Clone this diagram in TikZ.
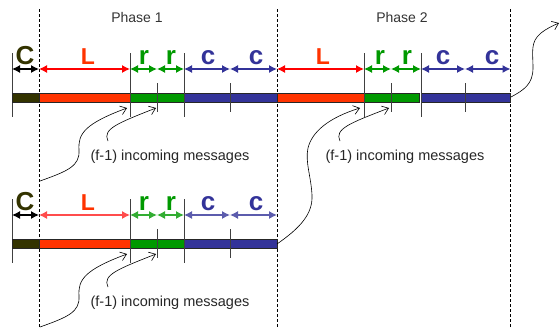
\documentclass[tikz,border=0pt]{standalone}
\usepackage{fontspec}
\setmainfont{Liberation Sans}
\usetikzlibrary{arrows.meta}
\definecolor{cOlive}{HTML}{333300}
\definecolor{cRed}{HTML}{FF3300}
\definecolor{cRedA}{HTML}{FF0000}
\definecolor{cGreen}{HTML}{009900}
\definecolor{cBlue}{HTML}{333399}
\begin{document}
\begin{tikzpicture}[x=1pt,y=-1pt,
  dim/.style={line width=1.2pt,{Latex[length=8pt,width=8pt]}-{Latex[length=8pt,width=8pt]}},
  tickln/.style={black!75,line width=0.8pt},
  seg/.style={draw=black!85,line width=0.8pt},
  lbl/.style={font=\bfseries\fontsize{26}{26}\selectfont,anchor=base,inner sep=0pt},
  lblL/.style={lbl,font=\bfseries\fontsize{23}{23}\selectfont},
  lblC/.style={lbl,font=\bfseries\fontsize{26}{26}\selectfont},
  msg/.style={line width=0.6pt,-{Straight Barb[length=6pt,width=9pt]}},
  phase/.style={font=\fontsize{14}{14}\selectfont,text=black!80},
  note/.style={font=\fontsize{14.5}{15}\selectfont,text=black!85},
  vdash/.style={dash pattern=on 3pt off 2pt,line width=0.7pt}]
\useasboundingbox (0,0) rectangle (560,327);

% phase boundaries
\draw[vdash] (39,9) -- (39,327);
\draw[vdash] (277,9) -- (277,327);
\draw[vdash] (510.5,9) -- (510.5,327);

\node[phase] (ph1) at (137,17) {Phase 1};
\node[phase] (ph2) at (402,17) {Phase 2};

% ---------- row 1 ----------
\draw[tickln] (12,53) -- (12,117);
\draw[tickln] (130,53) -- (130,117);
\draw[tickln] (184,53) -- (184,117);
\draw[tickln] (364,53) -- (364,117);
\draw[tickln] (421,53) -- (421,117);
\draw[tickln] (157,83) -- (157,112);
\draw[tickln] (230,83) -- (230,112);
\draw[tickln] (391,83) -- (391,112);
\draw[tickln] (465,83) -- (465,112);

\draw[seg,fill=cOlive] (12,93) rectangle (39,102.5);
\draw[seg,fill=cRed] (39,93) rectangle (130,102.5);
\draw[seg,fill=cGreen] (130,93) rectangle (184,102.5);
\draw[seg,fill=cBlue] (184,93) rectangle (277,102.5);
\draw[seg,fill=cRed] (277,93) rectangle (364,102.5);
\draw[seg,fill=cGreen] (364,93) rectangle (419,102.5);
\draw[seg,fill=cBlue] (421,93) rectangle (510.5,102.5);
\draw[tickln] (157,93) -- (157,102.5);
\draw[tickln] (230,93) -- (230,102.5);
\draw[tickln] (391,93) -- (391,102.5);
\draw[tickln] (465,93) -- (465,102.5);
\draw[tickln] (130,93) -- (130,102.5);
\draw[tickln] (184,93) -- (184,102.5);
\draw[tickln] (364,93) -- (364,102.5);
\draw[tickln] (421,93) -- (421,102.5);

\coordinate (p0) at (12,69);  \coordinate (p1) at (39,69);
\coordinate (p2) at (130,69); \coordinate (p3) at (157,69);
\coordinate (p4) at (184,69); \coordinate (p5) at (230,69);
\coordinate (p6) at (277,69); \coordinate (p7) at (364,69);
\coordinate (p8) at (391,69); \coordinate (p9) at (421,69);
\coordinate (p10) at (465,69); \coordinate (p11) at (510.5,69);
\draw[dim,black] (p0) -- (p1);
\draw[dim,cRedA] (p1) -- (p2);
\draw[dim,cGreen] (p2) -- (p3);
\draw[dim,cGreen] (p3) -- (p4);
\draw[dim,cBlue] (p4) -- (p5);
\draw[dim,cBlue] (p5) -- (p6);
\draw[dim,cRedA] (p6) -- (p7);
\draw[dim,cGreen] (p7) -- (p8);
\draw[dim,cGreen] (p8) -- (p9);
\draw[dim,cBlue] (p9) -- (p10);
\draw[dim,cBlue] (p10) -- (p11);

\node[lblC,text=cOlive] (lc1) at (25,64) {C};
\node[lblL,text=cRed] (ll1) at (88,64) {L};
\node[lbl,text=cGreen] (lr1) at (144,64) {r};
\node[lbl,text=cGreen] (lr2) at (171,64) {r};
\node[lbl,text=cBlue] (lcc1) at (208,64) {c};
\node[lbl,text=cBlue] (lcc2) at (256,64) {c};
\node[lblL,text=cRed] (ll2) at (323,64) {L};
\node[lbl,text=cGreen] (lr3) at (380,64) {r};
\node[lbl,text=cGreen] (lr4) at (407,64) {r};
\node[lbl,text=cBlue] (lcc3) at (443,64) {c};
\node[lbl,text=cBlue] (lcc4) at (492,64) {c};

\node[note] (n1) at (170,157) {(f-1) incoming messages};
\node[note] (n2) at (405,157) {(f-1) incoming messages};

% ---------- row 2 ----------
\draw[tickln] (12,199) -- (12,263);
\draw[tickln] (130,199) -- (130,263);
\draw[tickln] (184,199) -- (184,263);
\draw[tickln] (157,229) -- (157,258);
\draw[tickln] (230,229) -- (230,258);

\draw[seg,fill=cOlive] (12,239) rectangle (39,248.5);
\draw[seg,fill=cRed] (39,239) rectangle (130,248.5);
\draw[seg,fill=cGreen] (130,239) rectangle (184,248.5);
\draw[seg,fill=cBlue] (184,239) rectangle (277,248.5);
\draw[tickln] (157,239) -- (157,248.5);
\draw[tickln] (230,239) -- (230,248.5);
\draw[tickln] (130,239) -- (130,248.5);
\draw[tickln] (184,239) -- (184,248.5);

\coordinate (q0) at (12,215);  \coordinate (q1) at (39,215);
\coordinate (q2) at (130,215); \coordinate (q3) at (157,215);
\coordinate (q4) at (184,215); \coordinate (q5) at (230,215);
\coordinate (q6) at (277,215);
\draw[dim,black] (q0) -- (q1);
\draw[dim,cRedA!70] (q1) -- (q2);
\draw[dim,cGreen!80] (q2) -- (q3);
\draw[dim,cGreen!80] (q3) -- (q4);
\draw[dim,cBlue!80] (q4) -- (q5);
\draw[dim,cBlue!80] (q5) -- (q6);

\node[lblC,text=cOlive] (mc1) at (25,210) {C};
\node[lblL,text=cRed] (ml1) at (88,210) {L};
\node[lbl,text=cGreen] (mr1) at (144,210) {r};
\node[lbl,text=cGreen] (mr2) at (171,210) {r};
\node[lbl,text=cBlue] (mcc1) at (208,210) {c};
\node[lbl,text=cBlue] (mcc2) at (256,210) {c};

\node[note] (n3) at (170,303) {(f-1) incoming messages};

% ---------- message curves ----------
\coordinate (a0) at (40,181);  \coordinate (a1) at (127,108);
\coordinate (b0) at (108,141); \coordinate (b1) at (156,108);
\coordinate (c0) at (277,244); \coordinate (c1) at (360,108);
\coordinate (d0) at (340,141); \coordinate (d1) at (389,108);
\coordinate (e0) at (511,97);  \coordinate (e1) at (559,23);
\coordinate (f0) at (40,327);  \coordinate (f1) at (127,254);
\coordinate (g0) at (108,287); \coordinate (g1) at (156,254);

\draw[msg] (a0) .. controls (68,171) and (80,166) .. (79,150)
  .. controls (78,134) and (84,124) .. (a1);
\draw[msg] (b0) .. controls (102,129) and (118,123) .. (b1);
\draw[msg] (c0) .. controls (300,228) and (313,214) .. (312,195)
  .. controls (311,176) and (305,162) .. (308,148)
  .. controls (312,132) and (328,118) .. (c1);
\draw[msg] (d0) .. controls (334,129) and (350,123) .. (d1);
\draw[msg] (e0) .. controls (524,90) and (533,84) .. (533,68)
  .. controls (533,52) and (530,42) .. (541,33)
  .. controls (546,29) and (552,26) .. (e1);
\draw[msg] (f0) .. controls (68,317) and (80,312) .. (79,296)
  .. controls (78,280) and (84,270) .. (f1);
\draw[msg] (g0) .. controls (102,275) and (118,269) .. (g1);
\end{tikzpicture}
\end{document}
